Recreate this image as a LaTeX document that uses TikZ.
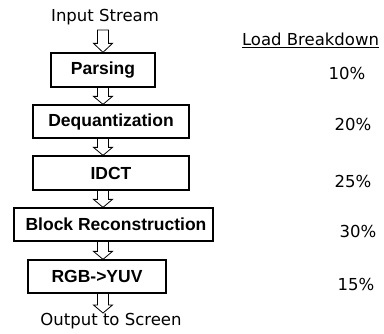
\documentclass[tikz,border=0pt]{standalone}
\usepackage{fontspec}
\setmainfont{DejaVu Sans}
\newfontfamily\boxfont{Liberation Sans}
\usetikzlibrary{calc}
\tikzset{
  stage/.style={draw, line width=1.3pt, inner sep=0pt, font=\boxfont\bfseries\fontsize{17.5}{20}\selectfont},
  plain/.style={inner sep=0pt, font=\fontsize{16.5}{19}\selectfont},
  hollow/.style={draw, line width=0.8pt, line join=miter}
}
\newcommand\hollowarrow[2]{\draw[hollow] let \p1=(axis |- #1), \p2=(axis |- #2) in
  (\x1-5.5pt,\y1) -- (\x1-5.5pt,\y2+8pt) -- (\x1-9.5pt,\y2+8pt) -- (\x1,\y2) -- (\x1+9.5pt,\y2+8pt) -- (\x1+5.5pt,\y2+8pt) -- (\x1+5.5pt,\y1);}
\begin{document}
\begin{tikzpicture}[x=1pt,y=-1pt]
\useasboundingbox (0,0) rectangle (384,333);
\coordinate (axis) at (103,0);
\node[plain] (in) at (105,17) {Input Stream};
\node[stage, minimum width=104pt, minimum height=34pt] (parse) at (103,70) {Parsing\hspace{8pt}};
\node[stage, minimum width=156pt, minimum height=33pt] (deq) at (111,121.5) {Dequantization\hspace{7pt}};
\node[stage, minimum width=156pt, minimum height=34pt] (idct) at (111,173) {IDCT\hspace{22pt}};
\node[stage, minimum width=199pt, minimum height=33pt] (block) at (113.5,224.5) {\hspace{5pt}Block Reconstruction};
\node[stage, minimum width=138pt, minimum height=33pt] (rgb) at (97,276.5) {RGB->YUV};
\node[plain, anchor=north] (out) at (111,313) {Output to Screen};
\coordinate (s0) at (103,30);
\draw[hollow] let \p1=(s0), \p2=(axis |- parse.north) in
  (\x1-5.5pt,\y1) -- (\x1-5.5pt,\y2+9pt) -- (\x1-9.5pt,\y2+9pt) -- (\x1,\y2) -- (\x1+9.5pt,\y2+9pt) -- (\x1+5.5pt,\y2+9pt) -- (\x1+5.5pt,\y1) -- cycle;
\hollowarrow{parse.south}{deq.north}
\hollowarrow{deq.south}{idct.north}
\hollowarrow{idct.south}{block.north}
\hollowarrow{block.south}{rgb.north}
\hollowarrow{rgb.south}{out.north}
\node[plain] (lb) at (310.5,40) {\underline{Load Breakdown}};
\node[plain] (p1) at (347,73) {10\%};
\node[plain] (p2) at (353,124) {20\%};
\node[plain] (p3) at (353,181) {25\%};
\node[plain] (p4) at (358,231) {30\%};
\node[plain] (p5) at (356,284) {15\%};
\end{tikzpicture}
\end{document}
